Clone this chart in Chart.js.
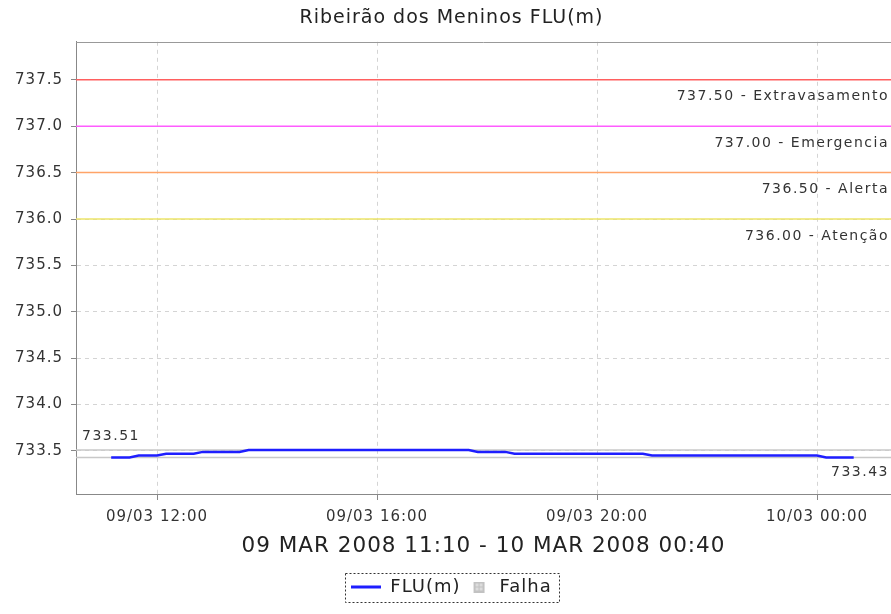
<!DOCTYPE html>
<html><head><meta charset="utf-8">
<script src="https://cdn.jsdelivr.net/npm/chart.js@4.4.1/dist/chart.umd.min.js"></script>
<style>html,body{margin:0;padding:0;background:#fff;overflow:hidden}canvas{display:block}</style>
</head><body>
<canvas id="c" width="891" height="614" style="width:891px;height:614px"></canvas>
<script>
const chartTitle = "Ribeirão dos Meninos FLU(m)";
const axisTitle = "09 MAR 2008 11:10 - 10 MAR 2008 00:40";
const seriesName = "FLU(m)";
const failName = "Falha";

const times = [
 "09/03 11:10","09/03 11:20","09/03 11:30","09/03 11:40","09/03 11:50",
 "09/03 12:00","09/03 12:10","09/03 12:20","09/03 12:30","09/03 12:40","09/03 12:50",
 "09/03 13:00","09/03 13:10","09/03 13:20","09/03 13:30","09/03 13:40","09/03 13:50",
 "09/03 14:00","09/03 14:10","09/03 14:20","09/03 14:30","09/03 14:40","09/03 14:50",
 "09/03 15:00","09/03 15:10","09/03 15:20","09/03 15:30","09/03 15:40","09/03 15:50",
 "09/03 16:00","09/03 16:10","09/03 16:20","09/03 16:30","09/03 16:40","09/03 16:50",
 "09/03 17:00","09/03 17:10","09/03 17:20","09/03 17:30","09/03 17:40","09/03 17:50",
 "09/03 18:00","09/03 18:10","09/03 18:20","09/03 18:30","09/03 18:40","09/03 18:50",
 "09/03 19:00","09/03 19:10","09/03 19:20","09/03 19:30","09/03 19:40","09/03 19:50",
 "09/03 20:00","09/03 20:10","09/03 20:20","09/03 20:30","09/03 20:40","09/03 20:50",
 "09/03 21:00","09/03 21:10","09/03 21:20","09/03 21:30","09/03 21:40","09/03 21:50",
 "09/03 22:00","09/03 22:10","09/03 22:20","09/03 22:30","09/03 22:40","09/03 22:50",
 "09/03 23:00","09/03 23:10","09/03 23:20","09/03 23:30","09/03 23:40","09/03 23:50",
 "10/03 00:00","10/03 00:10","10/03 00:20","10/03 00:30","10/03 00:40"
];
const levels = [
 733.43,733.43,733.43,733.45,733.45,
 733.45,733.47,733.47,733.47,733.47,733.49,
 733.49,733.49,733.49,733.49,733.51,733.51,
 733.51,733.51,733.51,733.51,733.51,733.51,
 733.51,733.51,733.51,733.51,733.51,733.51,
 733.51,733.51,733.51,733.51,733.51,733.51,
 733.51,733.51,733.51,733.51,733.51,733.49,
 733.49,733.49,733.49,733.47,733.47,733.47,
 733.47,733.47,733.47,733.47,733.47,733.47,
 733.47,733.47,733.47,733.47,733.47,733.47,
 733.45,733.45,733.45,733.45,733.45,733.45,
 733.45,733.45,733.45,733.45,733.45,733.45,
 733.45,733.45,733.45,733.45,733.45,733.45,
 733.45,733.43,733.43,733.43,733.43
];
const xTickLabels = ["09/03 12:00","09/03 16:00","09/03 20:00","10/03 00:00"];
const yTickValues = [733.5,734.0,734.5,735.0,735.5,736.0,736.5,737.0,737.5];
const thresholdValues = [737.5,737.0,736.5,736.0];
const thresholdNames = ["Extravasamento","Emergencia","Alerta","Atenção"];
const thresholdColors = ["#ff5f5f","#ff5cff","#ffa468","#ece468"];
const maxLevel = 733.51;
const minLevel = 733.43;

// axis extents (layout)
const X_MIN = 10.527, X_MAX = 25.345;
const Y_MIN = 733.036, Y_MAX = 737.910;

function toHours(s){
  const d = parseInt(s.slice(0,2),10) - 9;
  const hh = parseInt(s.slice(6,8),10), mm = parseInt(s.slice(9,11),10);
  return d*24 + hh + mm/60;
}

function lineIcon(){
  const c=document.createElement('canvas'); c.width=30; c.height=4;
  const g=c.getContext('2d'); g.fillStyle='#1e1eff'; g.fillRect(0,0.5,30,3); return c;
}
function failIcon(){
  const c=document.createElement('canvas'); c.width=30; c.height=11;
  const g=c.getContext('2d'); g.fillStyle='#c2c2c2'; g.fillRect(13,0,11,11);
  g.fillStyle='#dcdcdc'; g.fillRect(15,2,3,3); g.fillRect(19,2,3,3); g.fillRect(15,6,3,3); g.fillRect(19,6,3,3);
  return c;
}
const icons = [lineIcon(), failIcon()];

const spacingPlugin = {
  id:'spacing',
  beforeUpdate(chart){ chart.ctx.letterSpacing='1px'; },
  beforeDraw(chart){
    const ctx=chart.ctx; ctx.letterSpacing='1px';
    ctx.save(); ctx.fillStyle='#fff'; ctx.fillRect(0,0,chart.width,chart.height); ctx.restore();
  }
};

const annotPlugin = {
  id:'annot',
  afterDatasetsDraw(chart){
    const ctx=chart.ctx, ys=chart.scales.y, a=chart.chartArea;
    ctx.save();
    ctx.strokeStyle='#999'; ctx.lineWidth=1; ctx.beginPath();
    ctx.moveTo(a.left, Math.round(a.top)+0.5); ctx.lineTo(a.right, Math.round(a.top)+0.5); ctx.stroke();
    ctx.letterSpacing='1.5px';
    ctx.font='14px "DejaVu Sans"'; ctx.fillStyle='#333'; ctx.textBaseline='middle';
    ctx.textAlign='right';
    thresholdValues.forEach((v,i)=>{
      ctx.fillText(v.toFixed(2)+' - '+thresholdNames[i], a.right-2, ys.getPixelForValue(v)+17);
    });
    ctx.textAlign='left';
    ctx.fillText(maxLevel.toFixed(2), a.left+6, ys.getPixelForValue(maxLevel)-14);
    ctx.textAlign='right';
    ctx.fillText(minLevel.toFixed(2), a.right-2, ys.getPixelForValue(minLevel)+15);
    ctx.restore();
  }
};

const legendBoxPlugin = {
  id:'legendBox',
  afterDraw(chart){
    const hb = chart.legend.legendHitBoxes; if(!hb||!hb.length) return;
    let l=Infinity, r=-Infinity;
    hb.forEach(h=>{ l=Math.min(l,h.left); r=Math.max(r,h.left+h.width); });
    const t=hb[0].top-5, b=hb[0].top+hb[0].height+6;
    const ctx=chart.ctx; ctx.save();
    ctx.strokeStyle='#333'; ctx.lineWidth=1; ctx.setLineDash([2,2]);
    ctx.strokeRect(Math.round(l-6)+0.5, Math.round(t)+0.5, Math.round(r-l+14), Math.round(b-t));
    ctx.restore();
  }
};

Chart.defaults.font.family = '"DejaVu Sans"';
Chart.defaults.color = '#333';

const lineDs = (v,color,w,order)=>({
  label:'_'+v, data:[{x:X_MIN,y:v},{x:X_MAX,y:v}], borderColor:color, borderWidth:w,
  pointRadius:0, order:order, tension:0, fill:false
});

new Chart(document.getElementById('c'), {
  type:'line',
  data:{datasets:[
    {label:seriesName, data:times.map((t,i)=>({x:toHours(t), y:levels[i]})),
     borderColor:'#1e1eff', borderWidth:2.5, pointRadius:0, order:0, tension:0, fill:false},
    {label:failName, data:[], borderColor:'#c2c2c2', backgroundColor:'#c2c2c2', order:1},
    ...thresholdValues.map((v,i)=>lineDs(v,thresholdColors[i],1.5,2)),
    lineDs(maxLevel,'#c8c8c8',1.5,3),
    lineDs(minLevel,'#c8c8c8',1.5,3)
  ]},
  options:{
    responsive:false, animation:false, devicePixelRatio:1,
    layout:{padding:{left:12,right:0,top:0,bottom:8}},
    plugins:{
      title:{display:true, text:chartTitle, font:{size:19, weight:'normal'}, color:'#222', padding:{top:7,bottom:12}},
      legend:{position:'bottom', labels:{usePointStyle:true, pointStyleWidth:30, padding:0,
        font:{size:18}, color:'#222',
        generateLabels:()=>[seriesName,failName].map((t,i)=>({text:t, pointStyle:icons[i], fillStyle:'transparent',
          strokeStyle:'transparent', lineWidth:0, hidden:false, datasetIndex:i, fontColor:'#222'}))}},
      tooltip:{enabled:false}
    },
    scales:{
      x:{type:'linear', min:X_MIN, max:X_MAX,
        afterBuildTicks:s=>{ s.ticks = xTickLabels.map(t=>({value:toHours(t)})); },
        afterFit:s=>{ s.height=84; },
        ticks:{callback:(v,i)=>xTickLabels[i], font:{size:15}, color:'#333', padding:8, maxRotation:0, autoSkip:false},
        grid:{color:'#d4d4d4', tickColor:'#888', tickLength:6, tickBorderDash:[]},
        border:{color:'#888', dash:[4,4], width:1},
        title:{display:true, text:axisTitle, font:{size:21.5}, color:'#222', padding:{top:0,bottom:19}}},
      y:{type:'linear', min:Y_MIN, max:Y_MAX,
        afterBuildTicks:s=>{ s.ticks = yTickValues.map(v=>({value:v})); },
        afterFit:s=>{ s.width=64; },
        ticks:{callback:v=>Number(v).toFixed(1), font:{size:15}, color:'#333', padding:8, autoSkip:false},
        grid:{color:'#d4d4d4', tickColor:'#888', tickLength:5, tickBorderDash:[]},
        border:{color:'#888', dash:[4,4], width:1}}
    }
  },
  plugins:[spacingPlugin, annotPlugin, legendBoxPlugin]
});
</script>
</body></html>
